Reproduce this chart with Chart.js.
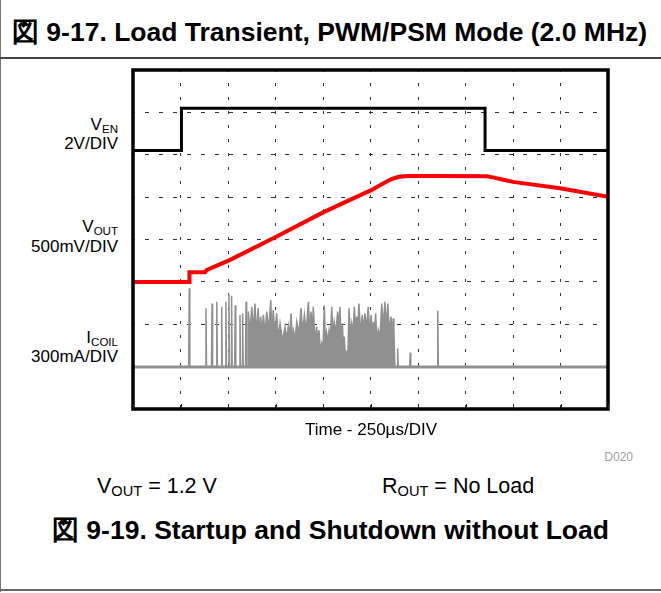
<!DOCTYPE html>
<html>
<head>
<meta charset="utf-8">
<script src="https://cdn.jsdelivr.net/npm/chart.js@4/dist/chart.umd.min.js"></script>
<style>
  html, body { margin: 0; padding: 0; background: #fff; }
  #page { position: relative; width: 661px; height: 593px; overflow: hidden; font-family: "Liberation Sans", Arial, sans-serif; color: #000; }
  .abs { position: absolute; white-space: nowrap; }
  .sub { font-size: 0.68em; position: relative; top: 0.22em; }
  #frameLeft { position: absolute; left: 0; top: 0; width: 1px; height: 592px; background: #777; }
  #frameSep { position: absolute; left: 0; top: 57px; width: 661px; height: 2px; background: #444; }
  #frameBottom { position: absolute; left: 0; top: 589px; width: 661px; height: 2px; background: #666; }
  #plot { position: absolute; left: 121px; top: 58px; }
</style>
</head>
<body>
<div id="page">
  <div id="frameLeft"></div>
  <div id="frameSep"></div>
  <div id="frameBottom"></div>

  <div class="abs" id="title" style="left:12px; top:17px; font-size:26.5px; font-weight:bold; line-height:30px;">図 9-17. Load Transient, PWM/PSM Mode (2.0 MHz)</div>

  <div class="abs" style="right:543px; top:116px; font-size:17px; line-height:17px; text-align:right;">V<span class="sub">EN</span></div>
  <div class="abs" style="right:543px; top:135px; font-size:17px; line-height:17px; text-align:right;">2V/DIV</div>

  <div class="abs" style="right:543px; top:218px; font-size:17px; line-height:17px; text-align:right;">V<span class="sub">OUT</span></div>
  <div class="abs" style="right:543px; top:238px; font-size:17px; line-height:17px; text-align:right;">500mV/DIV</div>

  <div class="abs" style="right:543px; top:329px; font-size:17px; line-height:17px; text-align:right;">I<span class="sub">COIL</span></div>
  <div class="abs" style="right:543px; top:348px; font-size:17px; line-height:17px; text-align:right;">300mA/DIV</div>

  <canvas id="plot" width="499" height="363"></canvas>

  <div class="abs" style="left:221px; width:300px; text-align:center; top:420px; font-size:17px; line-height:20px;">Time - 250µs/DIV</div>
  <div class="abs" style="right:28px; top:450px; font-size:12px; line-height:14px; color:#a0a0a0;">D020</div>

  <div class="abs" style="left:97px; top:474px; font-size:21.5px; line-height:24px;">V<span class="sub">OUT</span> = 1.2 V</div>
  <div class="abs" style="left:382px; top:474px; font-size:21.5px; line-height:24px;">R<span class="sub">OUT</span> = No Load</div>

  <div class="abs" style="left:0; width:661px; text-align:center; top:515px; font-size:26.5px; font-weight:bold; line-height:30px;">図 9-19. Startup and Shutdown without Load</div>
</div>

<script>
// ---- Data (time in µs, amplitude in screen divisions, 0 = bottom, 8 = top) ----
const xTicks = [0, 250, 500, 750, 1000, 1250, 1500, 1750, 2000, 2250, 2500];
const yTicks = [0, 1, 2, 3, 4, 5, 6, 7, 8];

// EN (2 V/div)
const venTime = [0, 255, 255, 1853, 1853, 2500];
const venDiv  = [6.10, 6.10, 7.10, 7.10, 6.10, 6.10];

// VOUT (500 mV/div)
const voutTime = [0, 295, 297, 379, 389, 511, 756, 1000, 1256, 1300, 1340, 1370, 1400, 1450, 1616, 1863, 1900, 1950, 2000, 2247, 2500];
const voutDiv  = [3.00, 3.00, 3.23, 3.23, 3.28, 3.52, 4.07, 4.64, 5.17, 5.28, 5.38, 5.44, 5.48, 5.50, 5.50, 5.49, 5.46, 5.41, 5.36, 5.21, 5.01];

// ICOIL (300 mA/div)
const coilBase = 0.99;
const spikeTime = [296, 384, 416, 441, 467, 489, 505, 519, 538, 563, 577, 595];
const spikeTop  = [2.85, 2.38, 2.49, 2.53, 2.41, 2.53, 2.71, 2.67, 2.45, 2.22, 2.26, 2.53];
const burstTime = [607, 625, 642, 659, 672, 686, 704, 725, 738, 756, 774, 800, 817, 832, 844, 862, 884, 902, 923, 937,
                   949, 967, 979, 993, 1007, 1019, 1032, 1046, 1059, 1077, 1089, 1102, 1112, 1125, 1137, 1151, 1165, 1177,
                   1189, 1207, 1221, 1238, 1253, 1265, 1277, 1291, 1309, 1326, 1341, 1358, 1370, 1377];
const burstTop  = [2.30, 2.41, 2.49, 2.38, 2.18, 2.22, 2.30, 2.57, 2.34, 2.26, 2.02, 1.94, 1.96, 2.26, 1.86, 2.06, 2.38, 2.22, 2.53, 2.30,
                   2.41, 1.94, 1.86, 1.55, 2.45, 1.79, 1.86, 2.41, 2.06, 2.30, 2.41, 2.02, 1.71, 1.35, 2.38, 2.02, 2.41, 2.18,
                   2.49, 2.22, 2.26, 2.41, 2.22, 2.06, 2.26, 1.86, 2.49, 2.53, 2.49, 2.18, 2.14, 1.16];
const burstValleyTime = [616, 633, 650, 665, 679, 695, 714, 731, 747, 765, 787, 808, 824, 838, 853, 873, 893, 912, 930, 943,
                         958, 973, 986, 1000, 1013, 1025, 1039, 1052, 1068, 1083, 1095, 1107, 1118, 1131, 1144, 1158, 1171,
                         1183, 1198, 1214, 1229, 1245, 1259, 1271, 1284, 1300, 1317, 1333, 1349, 1364, 1373];
const burstValley = [1.80, 1.85, 1.75, 1.70, 1.80, 1.78, 1.85, 1.80, 1.72, 1.65, 1.60, 1.62, 1.70, 1.58, 1.66, 1.75, 1.80, 1.82, 1.85, 1.78,
                     1.60, 1.55, 1.35, 1.40, 1.50, 1.58, 1.70, 1.72, 1.80, 1.85, 1.66, 1.45, 1.25, 1.30, 1.75, 1.78, 1.82,
                     1.85, 1.80, 1.85, 1.88, 1.80, 1.75, 1.78, 1.60, 1.70, 1.95, 1.90, 1.80, 1.75, 1.90];
const lateSpikeTime = [1393, 1459, 1604];
const lateSpikeTop  = [1.43, 1.33, 2.32];

// ---- Build point lists from the arrays ----
function zipPts(xs, ys) { return xs.map((x, i) => ({ x: x, y: ys[i] })); }
const halfW = 3;
const coilPts = [{ x: 0, y: coilBase }];
spikeTime.forEach((t, i) => {
  coilPts.push({ x: t - halfW, y: coilBase }, { x: t, y: spikeTop[i] }, { x: t + halfW, y: coilBase });
});
coilPts.push({ x: burstTime[0] - 1, y: coilBase });
burstTime.forEach((t, i) => {
  coilPts.push({ x: t, y: burstTop[i] });
  if (i < burstValleyTime.length) coilPts.push({ x: burstValleyTime[i], y: burstValley[i] });
});
coilPts.push({ x: burstTime[burstTime.length - 1] + 2, y: coilBase });
lateSpikeTime.forEach((t, i) => {
  coilPts.push({ x: t - halfW, y: coilBase }, { x: t, y: lateSpikeTop[i] }, { x: t + halfW, y: coilBase });
});
coilPts.push({ x: 2500, y: coilBase });
const coilBasePts = [{ x: 0, y: coilBase }, { x: 2500, y: coilBase }];

const framePlugin = {
  id: 'scopeFrame',
  afterDatasetsDraw(chart) {
    const { ctx, chartArea: a, scales } = chart;
    ctx.save();
    ctx.strokeStyle = '#000';
    ctx.lineWidth = 3.5;
    ctx.strokeRect(a.left, a.top, a.right - a.left, a.bottom - a.top);
    ctx.lineWidth = 1;
    ctx.strokeStyle = '#222';
    xTicks.forEach(v => {
      const px = Math.round(scales.x.getPixelForValue(v)) + 0.5;
      ctx.beginPath();
      ctx.moveTo(px, a.bottom);
      ctx.lineTo(px, a.bottom - 5);
      ctx.stroke();
    });
    ctx.restore();
  }
};

new Chart(document.getElementById('plot'), {
  type: 'scatter',
  data: {
    datasets: [
      { label: 'EN', data: zipPts(venTime, venDiv), showLine: true, borderColor: '#000', borderWidth: 3, pointRadius: 0, tension: 0, order: 1 },
      { label: 'VOUT', data: zipPts(voutTime, voutDiv), showLine: true, borderColor: '#ff0000', borderWidth: 4, pointRadius: 0, tension: 0, order: 2 },
      { label: 'ICOIL', data: coilPts, showLine: true, borderColor: '#909090', backgroundColor: '#909090', borderWidth: 1.5, pointRadius: 0, tension: 0, fill: { value: coilBase }, order: 3 },
      { label: 'ICOIL baseline', data: coilBasePts, showLine: true, borderColor: '#909090', borderWidth: 3, pointRadius: 0, tension: 0, order: 4 }
    ]
  },
  options: {
    responsive: false,
    animation: false,
    devicePixelRatio: 1,
    layout: { padding: { left: 12, right: 12, top: 12, bottom: 12 } },
    plugins: { legend: { display: false }, tooltip: { enabled: false } },
    scales: {
      x: {
        type: 'linear', min: 0, max: 2500,
        afterBuildTicks: s => { s.ticks = xTicks.map(v => ({ value: v })); },
        ticks: { display: false },
        grid: { color: '#333', lineWidth: 1, drawTicks: false },
        border: { display: false, dash: [3, 11], dashOffset: 1 }
      },
      y: {
        type: 'linear', min: 0, max: 8,
        afterBuildTicks: s => { s.ticks = yTicks.map(v => ({ value: v })); },
        ticks: { display: false },
        grid: { color: '#333', lineWidth: 1, drawTicks: false },
        border: { display: false, dash: [4, 10], dashOffset: 2 }
      }
    }
  },
  plugins: [framePlugin]
});
</script>
</body>
</html>
